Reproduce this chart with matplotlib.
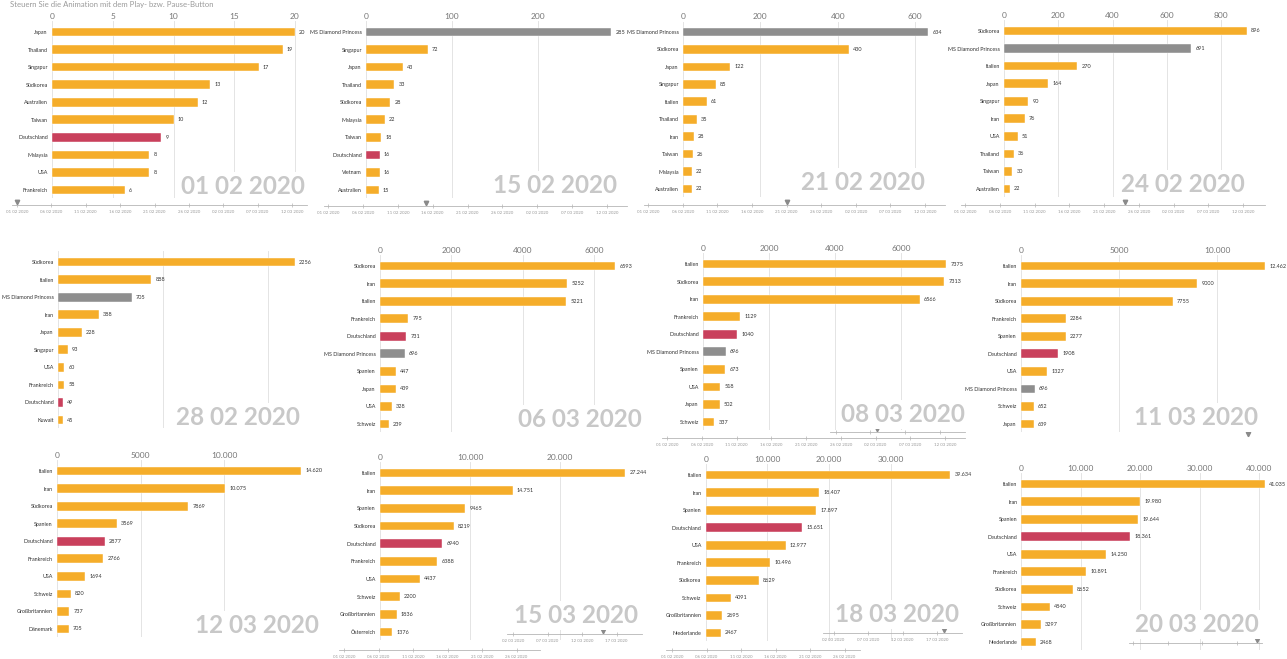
import matplotlib.pyplot as plt
from matplotlib.ticker import FuncFormatter

# ------------------------------------------------------------
# Data: confirmed cases, top 10 countries per snapshot
# ------------------------------------------------------------

countries_0102 = ["Japan", "Thailand", "Singapur", "Südkorea", "Australien",
                  "Taiwan", "Deutschland", "Malaysia", "USA", "Frankreich"]
cases_0102 = [20, 19, 17, 13, 12, 10, 9, 8, 8, 6]

countries_1502 = ["MS Diamond Princess", "Singapur", "Japan", "Thailand", "Südkorea",
                  "Malaysia", "Taiwan", "Deutschland", "Vietnam", "Australien"]
cases_1502 = [285, 72, 43, 33, 28, 22, 18, 16, 16, 15]

countries_2102 = ["MS Diamond Princess", "Südkorea", "Japan", "Singapur", "Italien",
                  "Thailand", "Iran", "Taiwan", "Malaysia", "Australien"]
cases_2102 = [634, 430, 122, 85, 61, 35, 28, 26, 22, 22]

countries_2402 = ["Südkorea", "MS Diamond Princess", "Italien", "Japan", "Singapur",
                  "Iran", "USA", "Thailand", "Taiwan", "Australien"]
cases_2402 = [896, 691, 270, 164, 90, 76, 51, 36, 30, 22]

countries_2802 = ["Südkorea", "Italien", "MS Diamond Princess", "Iran", "Japan",
                  "Singapur", "USA", "Frankreich", "Deutschland", "Kuwait"]
cases_2802 = [2256, 888, 705, 388, 228, 93, 60, 58, 49, 45]

countries_0603 = ["Südkorea", "Iran", "Italien", "Frankreich", "Deutschland",
                  "MS Diamond Princess", "Spanien", "Japan", "USA", "Schweiz"]
cases_0603 = [6593, 5252, 5221, 795, 731, 696, 447, 439, 328, 239]

countries_0803 = ["Italien", "Südkorea", "Iran", "Frankreich", "Deutschland",
                  "MS Diamond Princess", "Spanien", "USA", "Japan", "Schweiz"]
cases_0803 = [7375, 7313, 6566, 1129, 1040, 696, 673, 518, 502, 337]

countries_1103 = ["Italien", "Iran", "Südkorea", "Frankreich", "Spanien",
                  "Deutschland", "USA", "MS Diamond Princess", "Schweiz", "Japan"]
cases_1103 = [12462, 9000, 7755, 2284, 2277, 1908, 1327, 696, 652, 639]

countries_1203 = ["Italien", "Iran", "Südkorea", "Spanien", "Deutschland",
                  "Frankreich", "USA", "Schweiz", "Großbritannien", "Dänemark"]
cases_1203 = [14620, 10075, 7869, 3569, 2877, 2766, 1694, 820, 737, 705]

countries_1503 = ["Italien", "Iran", "Spanien", "Südkorea", "Deutschland",
                  "Frankreich", "USA", "Schweiz", "Großbritannien", "Österreich"]
cases_1503 = [27244, 14751, 9465, 8219, 6940, 6388, 4437, 2200, 1836, 1376]

countries_1803 = ["Italien", "Iran", "Spanien", "Deutschland", "USA",
                  "Frankreich", "Südkorea", "Schweiz", "Großbritannien", "Niederlande"]
cases_1803 = [39634, 18407, 17897, 15651, 12977, 10496, 8629, 4091, 2695, 2467]

countries_2003 = ["Italien", "Iran", "Spanien", "Deutschland", "USA",
                  "Frankreich", "Südkorea", "Schweiz", "Großbritannien", "Niederlande"]
cases_2003 = [41035, 19980, 19644, 18361, 14250, 10891, 8652, 4840, 3297, 2468]

timeline_days = [0, 5, 10, 15, 20, 25, 30, 35, 40, 45]
timeline_labels = ["01 02 2020", "06 02 2020", "11 02 2020", "16 02 2020", "21 02 2020",
                   "26 02 2020", "02 03 2020", "07 03 2020", "12 03 2020", "17 03 2020"]

title_text = "Steuern Sie die Animation mit dem Play- bzw. Pause-Button"

# ------------------------------------------------------------
# Styling
# ------------------------------------------------------------

W, H = 1287, 659
plt.rcParams["font.family"] = ["Lato", "DejaVu Sans"]

ORANGE = "#F5AD2A"
RED = "#C9405C"
GREY = "#8E8E8E"


def bar_color(name):
    if name == "Deutschland":
        return RED
    if name == "MS Diamond Princess":
        return GREY
    return ORANGE


def fmt(v, pos=None):
    v = int(round(v))
    if v >= 10000:
        return f"{v:,}".replace(",", ".")
    return str(v)


def fx(x):
    return x / W


def fy(y):
    return 1 - y / H


fig = plt.figure(figsize=(W / 100, H / 100), dpi=100)

# instruction line at the very top (cropped in the screenshot collage)
fig.text(fx(10), fy(7), title_text, fontsize=5.6, color="#9a9a9a", va="baseline")


def draw_panel(countries, cases, x0, ref_val, ref_px, y_top, y_bot, ticks,
               date, date_right, date_base, show_ticks=True):
    ppu = (ref_px - x0) / ref_val
    right_px = max(ref_px, x0 + max(cases) * ppu) + 6
    sp = (y_bot - y_top) / 9
    top_px = y_top - 0.6 * sp
    bot_px = y_bot + 0.45 * sp

    ax = fig.add_axes([fx(x0), fy(bot_px), (right_px - x0) / W, (bot_px - top_px) / H])
    ax.patch.set_alpha(0)
    ax.set_xlim(0, (right_px - x0) / ppu)
    ax.set_ylim(9.45, -0.6)

    ys = list(range(len(cases)))
    colors = [bar_color(c) for c in countries]
    ax.barh(ys, cases, height=0.5, color=colors, edgecolor="#ffffff", linewidth=0.3, zorder=2)

    for y, v in zip(ys, cases):
        ax.annotate(fmt(v), (v, y), xytext=(3, 0), textcoords="offset points",
                    va="center", ha="left", fontsize=4, color="#333333")

    ax.set_yticks(ys)
    ax.set_yticklabels(countries)
    ax.tick_params(axis="y", length=0, pad=3, labelsize=3.9, labelcolor="#333333")

    ax.set_xticks(ticks)
    ax.xaxis.set_major_formatter(FuncFormatter(fmt))
    ax.xaxis.tick_top()
    ax.tick_params(axis="x", length=0, pad=1, labelsize=6, labelcolor="#777777",
                   labeltop=show_ticks)
    ax.grid(axis="x", color="#e4e4e4", linewidth=0.7, zorder=0)
    ax.set_axisbelow(True)
    for s in ax.spines.values():
        s.set_visible(False)

    fig.text(fx(date_right), fy(date_base), date, ha="right", va="baseline",
             fontsize=17.5, fontweight="bold", color="#c8c8c8",
             bbox=dict(facecolor="white", edgecolor="none", pad=2))


def add_timeline(x_left, x_right, y_line, day0_px, px_day, show_labels=True,
                 marker_day=None, line=True):
    ax = fig.add_axes([fx(x_left), fy(y_line), (x_right - x_left) / W, 1 / H])
    ax.patch.set_alpha(0)
    lo = (x_left - day0_px) / px_day
    hi = (x_right - day0_px) / px_day
    ax.set_xlim(lo, hi)
    ax.set_ylim(0, 1)
    for s in ["top", "left", "right"]:
        ax.spines[s].set_visible(False)
    ax.spines["bottom"].set_visible(line)
    ax.spines["bottom"].set_color("#b5b5b5")
    ax.spines["bottom"].set_linewidth(0.6)
    ax.set_yticks([])

    days = [d for d in timeline_days if lo <= d <= hi]
    labels = [timeline_labels[timeline_days.index(d)] for d in days]
    if line:
        ax.set_xticks(days)
        ax.set_xticklabels(labels if show_labels else [""] * len(days))
    else:
        ax.set_xticks([])
    ax.tick_params(axis="x", length=3, width=0.5, color="#b5b5b5", direction="inout",
                   labelsize=3.2, labelcolor="#9a9a9a", pad=2)

    if marker_day is not None:
        ax.plot([marker_day], [3.5], marker="v", ms=3.2, color="#8a8a8a",
                linestyle="none", clip_on=False)


# ------------------------------------------------------------
# Row 1
# ------------------------------------------------------------

draw_panel(countries_0102, cases_0102, 52, 20, 295, 32, 190,
           [0, 5, 10, 15, 20], "01 02 2020", 305, 194)
draw_panel(countries_1502, cases_1502, 366, 100, 452, 32, 190,
           [0, 100, 200], "15 02 2020", 617, 193)
draw_panel(countries_2102, cases_2102, 683, 600, 915, 32, 189,
           [0, 200, 400, 600], "21 02 2020", 925, 190)
draw_panel(countries_2402, cases_2402, 1004, 800, 1221, 31, 189,
           [0, 200, 400, 600, 800], "24 02 2020", 1245, 192)

add_timeline(12, 307, 205, 17, 6.875, marker_day=0)
add_timeline(324, 627, 206, 328, 6.975, marker_day=14)
add_timeline(644, 945, 205, 648, 6.925, marker_day=20)
add_timeline(961, 1265, 205, 965, 6.95, marker_day=23)

# ------------------------------------------------------------
# Row 2
# ------------------------------------------------------------

draw_panel(countries_2802, cases_2802, 58, 2000, 268, 262, 420,
           [0, 1000, 2000], "28 02 2020", 300, 425, show_ticks=False)
draw_panel(countries_0603, cases_0603, 380, 6000, 594, 266, 424,
           [0, 2000, 4000, 6000], "06 03 2020", 642, 427)
draw_panel(countries_0803, cases_0803, 703, 6000, 901, 264, 422,
           [0, 2000, 4000, 6000], "08 03 2020", 965, 422)
draw_panel(countries_1103, cases_1103, 1021, 10000, 1217, 266, 424,
           [0, 5000, 10000], "11 03 2020", 1258, 425)

add_timeline(662, 965, 438, 667, 6.95)
add_timeline(830, 965, 432, 627, 6.95, show_labels=False, marker_day=36)
add_timeline(1240, 1256, 437, 977, 6.95, marker_day=39, line=False)

# ------------------------------------------------------------
# Row 3
# ------------------------------------------------------------

draw_panel(countries_1203, cases_1203, 57, 10000, 224, 471, 629,
           [0, 5000, 10000], "12 03 2020", 319, 633)
draw_panel(countries_1503, cases_1503, 380, 20000, 560, 473, 632,
           [0, 10000, 20000], "15 03 2020", 638, 623)
draw_panel(countries_1803, cases_1803, 705.7, 30000, 890.7, 475, 633,
           [0, 10000, 20000, 30000], "18 03 2020", 959, 622)
draw_panel(countries_2003, cases_2003, 1021.3, 40000, 1259, 484, 642,
           [0, 10000, 20000, 30000, 40000], "20 03 2020", 1259, 632)

add_timeline(507, 642, 634, 306, 6.9, marker_day=43)
add_timeline(339, 540, 650, 344, 6.9)
add_timeline(823, 962, 633, 626.6, 6.9, marker_day=46)
add_timeline(666, 860, 650, 672, 6.9)
add_timeline(1129, 1262, 643, 926, 6.9, show_labels=False, marker_day=48)

fig.savefig("out.png", dpi=100)
